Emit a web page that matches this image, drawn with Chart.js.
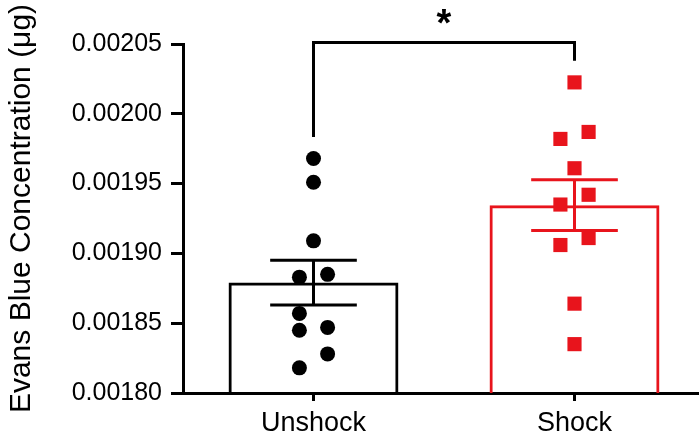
<!DOCTYPE html>
<html>
<head>
<meta charset="utf-8">
<script src="https://cdn.jsdelivr.net/npm/chart.js@4/dist/chart.umd.min.js"></script>
<style>
  html, body { margin: 0; padding: 0; background: #fff; overflow: hidden; }
  #wrap { width: 699px; height: 437px; }
</style>
</head>
<body>
<div id="wrap"><canvas id="chart" width="699" height="437"></canvas></div>
<script>
const groups = ['Unshock', 'Shock'];
const colors = ['#000000', '#e8141c'];

// individual animals
const unshock = [0.001968, 0.001951, 0.001909, 0.001883, 0.001885, 0.001857, 0.001845, 0.001847, 0.001828, 0.001818];
const unshockCol = [0, 0, 0, -1, 1, -1, -1, 1, 1, -1];
const shock = [0.0020225, 0.001987, 0.001982, 0.001961, 0.001942, 0.001935, 0.001911, 0.001906, 0.001864, 0.001835];
const shockCol = [0, 1, -1, 0, 1, -1, 1, -1, 0, 0];

const yTicks = [0.00180, 0.00185, 0.00190, 0.00195, 0.00200, 0.00205];
const yTitle = 'Evans Blue Concentration (μg)';
// significance bracket: bar top and leg ends (y values)
const bracketTop = 0.002051;
const bracketLegs = [0.0019834, 0.002038];
const sigLabel = '*';

const FONT = "'Liberation Sans', Arial, sans-serif";
const JITTER = 0.054;
const CAP = 0.166;

function mean(a) { return a.reduce((s, v) => s + v, 0) / a.length; }
function sem(a) {
  const m = mean(a);
  const v = a.reduce((s, x) => s + (x - m) * (x - m), 0) / (a.length - 1);
  return Math.sqrt(v / a.length);
}

const series = [unshock, shock];
const means = series.map(mean);
const sems = series.map(sem);

const overlay = {
  id: 'overlay',
  afterDatasetDraw(chart, args) {
    if (args.index !== 2) return;
    const ctx = chart.ctx, x = chart.scales.x, y = chart.scales.y;
    ctx.save();
    ctx.lineWidth = 3;
    ctx.lineCap = 'butt';
    means.forEach((m, i) => {
      ctx.strokeStyle = colors[i];
      const px = x.getPixelForValue(i);
      const top = y.getPixelForValue(m + sems[i]);
      const bot = y.getPixelForValue(m - sems[i]);
      const l = x.getPixelForValue(i - CAP), r = x.getPixelForValue(i + CAP);
      ctx.beginPath();
      ctx.moveTo(px, top); ctx.lineTo(px, bot);
      ctx.moveTo(l, top); ctx.lineTo(r, top);
      ctx.moveTo(l, bot); ctx.lineTo(r, bot);
      ctx.stroke();
    });
    ctx.restore();
  },
  afterDraw(chart) {
    const ctx = chart.ctx, x = chart.scales.x, y = chart.scales.y;
    ctx.save();
    // bracket + star
    ctx.strokeStyle = '#000';
    ctx.lineWidth = 3;
    const x0 = x.getPixelForValue(0), x1 = x.getPixelForValue(1);
    const yt = y.getPixelForValue(bracketTop);
    ctx.beginPath();
    ctx.moveTo(x0, y.getPixelForValue(bracketLegs[0]));
    ctx.lineTo(x0, yt);
    ctx.lineTo(x1, yt);
    ctx.lineTo(x1, y.getPixelForValue(bracketLegs[1]));
    ctx.stroke();
    ctx.fillStyle = '#000';
    ctx.font = 'bold 38px ' + FONT;
    ctx.textAlign = 'center';
    ctx.textBaseline = 'alphabetic';
    ctx.fillText(sigLabel, x.getPixelForValue(0.5), yt - 7);
    // y axis title (sits a bit above the plot's middle in the original)
    ctx.font = '30px ' + FONT;
    ctx.textBaseline = 'middle';
    ctx.translate(22, (y.top + y.bottom) / 2 - 10);
    ctx.rotate(-Math.PI / 2);
    ctx.fillText(yTitle, 0, 0);
    ctx.restore();
  }
};

new Chart(document.getElementById('chart').getContext('2d'), {
  data: {
    datasets: [
      {
        type: 'scatter',
        data: unshock.map((v, i) => ({ x: 0 + unshockCol[i] * JITTER, y: v })),
        backgroundColor: colors[0],
        borderWidth: 0,
        pointStyle: 'circle',
        pointRadius: 7.5
      },
      {
        type: 'scatter',
        data: shock.map((v, i) => ({ x: 1 + shockCol[i] * JITTER, y: v })),
        backgroundColor: colors[1],
        borderWidth: 0,
        pointStyle: 'rect',
        pointRadius: 10
      },
      {
        type: 'bar',
        data: means.map((m, i) => ({ x: i, y: m })),
        backgroundColor: 'rgba(255,255,255,0)',
        borderColor: colors,
        borderWidth: 3,
        borderSkipped: 'bottom',
        categoryPercentage: 1,
        barPercentage: 0.651
      }
    ]
  },
  options: {
    responsive: false,
    animation: false,
    layout: { autoPadding: false, padding: { top: 44, left: 0, right: 0, bottom: 0 } },
    plugins: { legend: { display: false }, tooltip: { enabled: false } },
    scales: {
      x: {
        type: 'linear',
        offset: false,
        min: -0.5,
        max: 1.477,
        afterBuildTicks: (s) => { s.ticks = groups.map((_, i) => ({ value: i })); },
        afterFit: (s) => { s.height = 44; },
        grid: { offset: false, drawOnChartArea: false, color: '#000', tickLength: 8, tickWidth: 3 },
        border: { color: '#000', width: 3 },
        ticks: {
          color: '#000',
          padding: 6,
          font: { family: FONT, size: 27 },
          callback: (v) => groups[v]
        }
      },
      y: {
        min: yTicks[0],
        max: yTicks[yTicks.length - 1],
        afterBuildTicks: (s) => { s.ticks = yTicks.map(v => ({ value: v })); },
        afterFit: (s) => { s.width = 183; },
        grid: { drawOnChartArea: false, color: '#000', tickLength: 12, tickWidth: 3 },
        border: { color: '#000', width: 3 },
        ticks: {
          color: '#000',
          padding: 9,
          font: { family: FONT, size: 25 },
          callback: (v) => v.toFixed(5)
        }
      }
    }
  },
  plugins: [overlay]
});
</script>
</body>
</html>
